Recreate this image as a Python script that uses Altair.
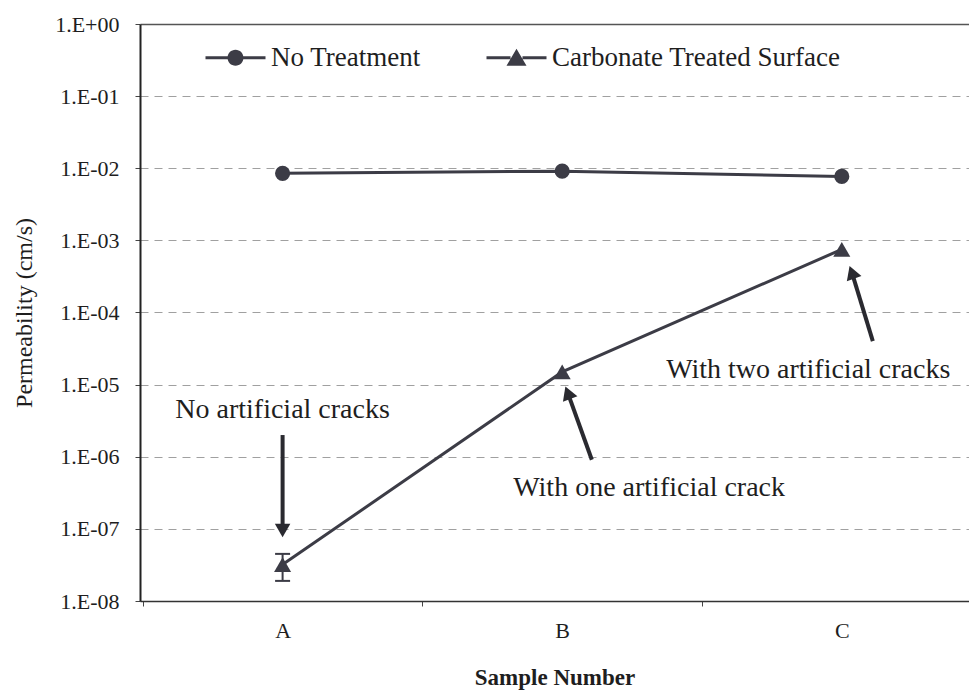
import json

import altair as alt
import pandas as pd

# Sample labels and measured permeability (cm/s)
samples = ["A", "B", "C"]
series_names = ["No Treatment", "Carbonate Treated Surface"]
no_treatment = [8.5e-3, 9.1e-3, 7.7e-3]
carbonate = [3.2e-8, 1.5e-5, 7.5e-4]

# Error bar on sample A of the carbonate treated series
err_sample = ["A"]
err_mean = [3.2e-8]
err_half = [1.3e-8]

# Annotation notes and their arrows (x in sample slots, y in cm/s)
note_text = ["No artificial cracks", "With one artificial crack", "With two artificial cracks"]
note_x = [1.0, 2.311, 2.880]
note_y = [4.4e-6, 3.7e-7, 1.6e-5]
arrow_x0 = [1.0, 2.106, 3.111]
arrow_y0 = [2.0e-6, 9.1e-7, 4.0e-5]
arrow_x1 = [1.0, 2.020, 3.036]
arrow_y1 = [9.5e-8, 7.7e-6, 3.6e-4]
arrow_angle = [180, 339, 340]

y_ticks = [1e-8, 1e-7, 1e-6, 1e-5, 1e-4, 1e-3, 1e-2, 1e-1, 1e0]

INK = "#3c3c46"
TEXT = "#1e1e1e"
FONT = "Liberation Serif"

pos = {s: i + 1 for i, s in enumerate(samples)}

rows = []
for name, vals in zip(series_names, [no_treatment, carbonate]):
    for s, v in zip(samples, vals):
        rows.append({"sample": s, "pos": pos[s], "series": name, "k": v})
df = pd.DataFrame(rows)

err_df = pd.DataFrame({
    "pos": [pos[s] for s in err_sample],
    "lower": [m - h for m, h in zip(err_mean, err_half)],
    "upper": [m + h for m, h in zip(err_mean, err_half)],
})

notes_df = pd.DataFrame({"text": note_text, "x": note_x, "y": note_y})
arrows_df = pd.DataFrame({
    "x0": arrow_x0, "y0": arrow_y0, "x1": arrow_x1, "y1": arrow_y1, "angle": arrow_angle,
})

x_scale = alt.Scale(domain=[0.49, 3.455], nice=False, zero=False)
y_scale = alt.Scale(type="log", domain=[1e-8, 1], nice=False)

label_expr_x = (
    f"datum.value % 1 == 0 ? {json.dumps(samples)}[datum.value - 1] : ''"
)
x_axis = alt.Axis(
    title="Sample Number",
    values=[0.5, 1, 1.5, 2, 2.5, 3],
    labelExpr=label_expr_x,
    tickOpacity={"condition": {"test": "datum.value % 1 != 0", "value": 1}, "value": 0},
    tickSize=5,
    tickColor="#444",
    domainColor="#333",
    domainWidth=1.5,
    grid=False,
    labelFont=FONT,
    labelFontSize=22,
    labelColor=TEXT,
    labelPadding=14,
    titleFont=FONT,
    titleFontSize=23,
    titleFontWeight="bold",
    titleColor=TEXT,
    titlePadding=25,
)

label_expr_y = (
    "'1.E' + (datum.value >= 1 ? '+' : '-') + "
    "(abs(round(log(datum.value) / LN10)) < 10 ? '0' : '') + "
    "abs(round(log(datum.value) / LN10))"
)
y_axis = alt.Axis(
    title="Permeability (cm/s)",
    values=y_ticks,
    labelExpr=label_expr_y,
    tickSize=5,
    tickColor="#444",
    domainColor="#222",
    domainWidth=2,
    grid=True,
    gridColor={"condition": {"test": "datum.value >= 1", "value": "#555"}, "value": "#a0a0a0"},
    gridDash={"condition": {"test": "datum.value >= 1 || datum.value <= 1e-8", "value": []}, "value": [8, 6]},
    gridWidth={"condition": {"test": "datum.value >= 1", "value": 1.5}, "value": 1},
    labelFont=FONT,
    labelFontSize=22,
    labelColor=TEXT,
    labelPadding=16,
    titleFont=FONT,
    titleFontSize=24,
    titleFontWeight="normal",
    titleColor=TEXT,
    titlePadding=18,
)

base = alt.Chart(df)

lines = base.mark_line(color=INK, strokeWidth=3).encode(
    x=alt.X("pos:Q", scale=x_scale, axis=x_axis),
    y=alt.Y("k:Q", scale=y_scale, axis=y_axis),
    detail="series:N",
)

circles = base.transform_filter(
    alt.datum.series == series_names[0]
).mark_point(shape="circle", filled=True, size=230, color=INK, opacity=1).encode(
    x="pos:Q", y="k:Q"
)

triangles = base.transform_filter(
    alt.datum.series == series_names[1]
).mark_point(shape="triangle-up", filled=True, size=290, color=INK, opacity=1).encode(
    x="pos:Q", y="k:Q"
)

# Legend symbols: two thin bars (the series line) on either side of the marker
bars = "M-3,-0.15L-0.6,-0.15L-0.6,0.15L-3,0.15ZM0.6,-0.15L3,-0.15L3,0.15L0.6,0.15Z"
circle_path = bars + "M-0.8,0A0.8,0.8,0,1,1,0.8,0A0.8,0.8,0,1,1,-0.8,0Z"
triangle_path = bars + "M0,-0.9L1,0.8L-1,0.8Z"

legend_layer = base.mark_point(filled=True, color=INK, opacity=0).encode(
    x="pos:Q",
    y="k:Q",
    shape=alt.Shape(
        "series:N",
        scale=alt.Scale(domain=series_names, range=[circle_path, triangle_path]),
        legend=alt.Legend(
            title=None,
            orient="none",
            legendX=82,
            legendY=20,
            direction="horizontal",
            columns=2,
            padding=0,
            symbolOffset=0,
            symbolSize=400,
            symbolFillColor=INK,
            symbolOpacity=1,
            labelOffset=22,
            labelLimit=500,
            columnPadding=62,
            labelFont=FONT,
            labelFontSize=27,
            labelColor=TEXT,
        ),
    ),
)

err_rule = alt.Chart(err_df).mark_rule(color=INK, strokeWidth=2).encode(
    x="pos:Q", y="lower:Q", y2="upper:Q"
)
err_low = alt.Chart(err_df).mark_tick(
    orient="horizontal", color=INK, size=15, thickness=2, opacity=1
).encode(x="pos:Q", y="lower:Q")
err_high = alt.Chart(err_df).mark_tick(
    orient="horizontal", color=INK, size=15, thickness=2, opacity=1
).encode(x="pos:Q", y="upper:Q")

shafts = alt.Chart(arrows_df).mark_rule(color="#2a2a30", strokeWidth=4).encode(
    x="x0:Q", y="y0:Q", x2="x1:Q", y2="y1:Q"
)
heads = alt.Chart(arrows_df).mark_point(
    shape="triangle-up", filled=True, size=240, color="#2a2a30", opacity=1
).encode(x="x1:Q", y="y1:Q", angle=alt.Angle("angle:Q", scale=None))

notes = alt.Chart(notes_df).mark_text(
    font=FONT, fontSize=28, color=TEXT, align="center", baseline="middle"
).encode(x="x:Q", y="y:Q", text="text:N")

chart = alt.layer(
    lines, err_rule, err_low, err_high, circles, triangles, legend_layer,
    shafts, heads, notes,
).properties(
    width=829,
    height=577,
    autosize=alt.AutoSizeParams(type="none"),
    padding={"left": 140, "top": 24, "right": 0, "bottom": 89},
    background="white",
).configure_view(stroke=None)

chart.save("out.html", embed_options={"renderer": "svg", "actions": False})
